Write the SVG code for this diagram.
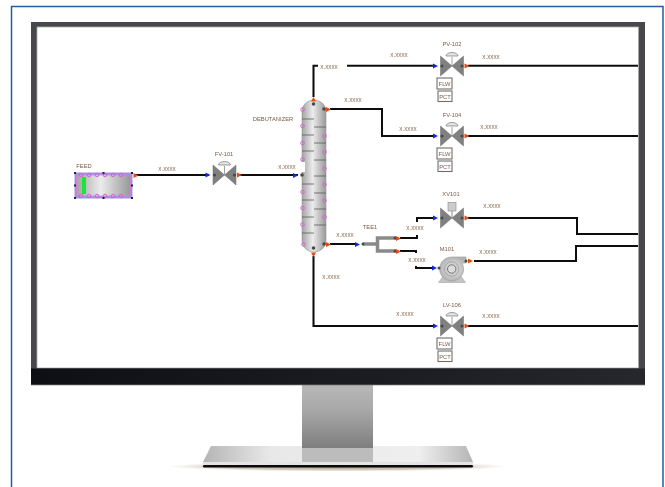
<svg xmlns="http://www.w3.org/2000/svg" width="665" height="487" viewBox="0 0 665 487">
<style>
text{font-family:"Liberation Sans",Arial,sans-serif;fill:#7d5b46;text-anchor:middle;font-size:5.8px}
.v{font-size:6.3px;fill:#8f705a}
.pipe{fill:none;stroke:#0c0c0c;stroke-width:2}
.tray{stroke:#5c5c5c;stroke-width:.8}
.ring{fill:none;stroke:#d464d8;stroke-width:1}
.box{fill:#fff;stroke:#6e6e6e;stroke-width:1.100}
.dot{fill:#4a4a4a}
</style>
<defs>
<filter id="soft" x="-2%" y="-2%" width="104%" height="104%"><feGaussianBlur stdDeviation=".28"/></filter>
<linearGradient id="col" x1="0" x2="1" y1="0" y2="0"><stop offset="0" stop-color="#a4a4a4"/><stop offset=".45" stop-color="#ececec"/><stop offset="1" stop-color="#989898"/></linearGradient>
<linearGradient id="bar" x1="0" x2="1" y1="0" y2="0"><stop offset="0" stop-color="#0e0f15"/><stop offset="1" stop-color="#26272c"/></linearGradient>
<linearGradient id="stand" x1="0" x2="0" y1="0" y2="1"><stop offset="0" stop-color="#b8b8b8"/><stop offset=".4" stop-color="#a8a8a8"/><stop offset="1" stop-color="#7e7e7e"/></linearGradient>
<linearGradient id="base" x1="0" x2="1" y1="0" y2="0"><stop offset="0" stop-color="#b5b5b5"/><stop offset=".25" stop-color="#e8e8e8"/><stop offset=".8" stop-color="#efefef"/><stop offset="1" stop-color="#b5b5b5"/></linearGradient>
<radialGradient id="shadow"><stop offset="0" stop-color="#a89e88"/><stop offset=".7" stop-color="#c0b8a8" stop-opacity=".7"/><stop offset="1" stop-color="#dcd8cc" stop-opacity="0"/></radialGradient>
<radialGradient id="pump"><stop offset="0" stop-color="#f0f0f0"/><stop offset="1" stop-color="#b4b4b4"/></radialGradient>
<path id="in" d="M0-2.600L5 0L0 2.600Z" fill="#1028e8"/>
<path id="out" d="M0-2.600L5 0L0 2.600Z" fill="#e8480f"/>
<g id="bow">
<path d="M-11.500-10L0 0L-11.500 10Z M11.500-10L0 0L11.500 10Z" fill="#808080" stroke="#6e6e6e" stroke-width=".5"/>
<circle cx="-10" cy="0" r="1.600" class="dot"/><circle cx="10" cy="0" r="1.600" class="dot"/>
<use href="#in" x="-19" y="0"/><use href="#out" x="12.500" y="0"/>
</g>
<g id="valve">
<path d="M0 0V-9" stroke="#888" stroke-width=".8"/>
<path d="M-6-10H6A6 3.500 0 0 0-6-10Z" fill="#e4e4e4" stroke="#777" stroke-width=".7"/>
<use href="#bow"/>
</g>
<g id="ctl">
<rect x="-15" y="12" width="15" height="11" class="box"/><text x="-7.500" y="19.800">FLW</text>
<rect x="-14" y="25" width="14" height="10.500" class="box"/><text x="-7" y="32.500">PCT</text>
</g>
</defs>
<rect width="665" height="487" fill="#fff"/>
<path d="M11.500 487V6.500H663V487" fill="none" stroke="#1f5fa8" stroke-width="1.500"/>
<g id="monitor">
<ellipse cx="338" cy="466.500" rx="173" ry="5" fill="url(#shadow)"/>
<path d="M211 446H466L473 462H203Z" fill="url(#base)"/>
<rect x="302" y="446" width="71" height="16" fill="#bcbcbc"/>
<rect x="203" y="462" width="270" height="3" fill="#e4e4e4"/>
<rect x="203" y="465" width="270" height="2.500" rx="1.200" fill="#0a0a0a"/>
<rect x="302" y="385" width="71" height="63" fill="url(#stand)"/>
<rect x="31" y="22" width="614" height="348" fill="#46484c"/>
<rect x="37" y="27" width="601.500" height="341" fill="#fff" stroke="#aaa" stroke-width=".8"/>
<rect x="31" y="368.500" width="614" height="16.500" fill="url(#bar)"/>
<rect x="31" y="384.500" width="614" height=".8" fill="#666"/>
</g>
<g filter="url(#soft)">
<g id="connectors">
<path class="pipe" d="M135 175H209"/>
<path class="pipe" d="M238 175H298"/>
<path class="pipe" d="M313.500 97V65.700H318"/>
<path class="pipe" d="M347 65.700H434"/>
<path class="pipe" d="M330 109H382V136H434"/>
<path class="pipe" d="M330 244H356"/>
<path class="pipe" d="M400 238H417V235"/>
<path class="pipe" d="M417 222V218H434"/>
<path class="pipe" d="M400 251H416V253"/>
<path class="pipe" d="M416 266V268H434"/>
<path class="pipe" d="M313.500 256V326H434"/>
<path class="pipe" d="M468 65.700H638"/>
<path class="pipe" d="M468 136H638"/>
<path class="pipe" d="M468 218H577V234H638"/>
<path class="pipe" d="M474 261H576V246H638"/>
<path class="pipe" d="M468 326H638"/>
</g>
<g id="feed">
<rect x="75" y="173" width="57" height="25" fill="#a49ce8" stroke="#8880dc" stroke-width=".8"/>
<rect x="76.500" y="175" width="54" height="21" fill="url(#col)" stroke="#d878dc" stroke-width=".7"/>
<g class="ring"><circle cx="81" cy="175" r="1.800"/><circle cx="89" cy="175" r="1.800"/><circle cx="97" cy="175" r="1.800"/><circle cx="105" cy="175" r="1.800"/><circle cx="113" cy="175" r="1.800"/><circle cx="121" cy="175" r="1.800"/><circle cx="81" cy="196" r="1.800"/><circle cx="89" cy="196" r="1.800"/><circle cx="97" cy="196" r="1.800"/><circle cx="105" cy="196" r="1.800"/><circle cx="113" cy="196" r="1.800"/><circle cx="121" cy="196" r="1.800"/></g>
<rect x="82" y="177" width="4" height="17" fill="#14e838"/>
<g fill="#222"><rect x="74" y="172" width="2" height="2"/><rect x="102.500" y="172" width="2" height="2"/><rect x="131" y="172" width="2" height="2"/><rect x="74" y="184.500" width="2" height="2"/><rect x="131" y="184.500" width="2" height="2"/><rect x="74" y="197" width="2" height="2"/><rect x="102.500" y="197" width="2" height="2"/><rect x="131" y="197" width="2" height="2"/></g>
<use href="#out" x="133.500" y="175.500"/>
<text x="84" y="168">FEED</text>
</g>
<g id="fv101"><use href="#valve" x="224.500" y="175"/><text x="224" y="156">FV-101</text></g>
<g id="debutanizer">
<rect x="302" y="100" width="24" height="152" rx="12" ry="11" fill="url(#col)" stroke="#999" stroke-width=".6"/>
<g class="tray"><path d="M302 119H314M302 135H314M302 151H314M302 184H314M302 200H314M302 217H314M302 233H314M314 127H326M314 143H326M314 160H326M314 176H326M314 193H326M314 209H326M314 225H326"/></g>
<rect x="278" y="162" width="27" height="10" fill="#fff"/>
<g class="ring"><circle cx="302.500" cy="109.500" r="1.800"/><circle cx="302.500" cy="126" r="1.800"/><circle cx="302.500" cy="143" r="1.800"/><circle cx="302.500" cy="159.500" r="1.800"/><circle cx="302.500" cy="192" r="1.800"/><circle cx="302.500" cy="208" r="1.800"/><circle cx="302.500" cy="224.500" r="1.800"/><circle cx="303.500" cy="244.500" r="1.800"/><circle cx="324.500" cy="136" r="1.800"/><circle cx="324.500" cy="152" r="1.800"/><circle cx="324.500" cy="168.500" r="1.800"/><circle cx="324.500" cy="184.500" r="1.800"/><circle cx="324.500" cy="200.500" r="1.800"/><circle cx="324.500" cy="217" r="1.800"/></g>
<circle cx="313.500" cy="104" r="1.800" class="dot"/><circle cx="324" cy="109" r="1.800" class="dot"/><circle cx="324" cy="244" r="1.800" class="dot"/><circle cx="313.500" cy="248" r="1.800" class="dot"/><circle cx="302" cy="175" r="1.800" class="dot"/>
<path d="M311 101.500L313.500 97L316 101.500Z" fill="#e8480f"/>
<path d="M311 252.500H316L313.500 257Z" fill="#e8480f"/>
<use href="#out" x="326" y="109.500"/><use href="#out" x="326" y="244.500"/><use href="#in" x="293" y="175.500"/>
<text x="273" y="121">DEBUTANIZER</text>
</g>
<g id="pv102"><use href="#valve" x="452" y="66"/><use href="#ctl" x="452" y="66"/><text x="452" y="46">PV-102</text></g>
<g id="fv104"><use href="#valve" x="452" y="136"/><use href="#ctl" x="452" y="136"/><text x="452" y="117">FV-104</text></g>
<g id="xv101"><rect x="448" y="202.500" width="8" height="8.500" fill="#ccc" stroke="#888" stroke-width=".6"/><path d="M452 211V218" stroke="#888"/><use href="#bow" x="452" y="218"/><text x="451" y="196">XV101</text></g>
<g id="m101">
<path d="M438.500 282.500L444 275H460L465.500 282.500Z" fill="#c4c4c4" stroke="#999" stroke-width=".5"/>
<path d="M452 257H466V263H462A12 12 0 1 1 452 257Z" fill="url(#pump)" stroke="#999" stroke-width=".6"/>
<circle cx="451.700" cy="269" r="7.200" fill="#cfcfcf" stroke="#8a8a8a" stroke-width=".6"/><circle cx="451.700" cy="269" r="4.200" fill="#ddd" stroke="#777" stroke-width="1"/>
<circle cx="466" cy="261" r="1.500" class="dot"/><use href="#out" x="468" y="261"/>
<use href="#in" x="432" y="268"/><circle cx="439" cy="268" r="1.500" class="dot"/>
<text x="447" y="251">M101</text>
</g>
<g id="lv106"><use href="#valve" x="452" y="326"/><use href="#ctl" x="452" y="326"/><text x="452" y="307">LV-106</text></g>
<g id="tee1">
<path d="M363 244H377M396 238H377.500V251H396" fill="none" stroke="#8a8a8a" stroke-width="3.500"/>
<use href="#in" x="355" y="244.500"/><circle cx="363" cy="244" r="1.500" class="dot"/><circle cx="395" cy="238" r="1.500" class="dot"/><circle cx="395" cy="251" r="1.500" class="dot"/>
<use href="#out" x="396" y="238.500"/><use href="#out" x="396" y="251.500"/>
<text x="370" y="229">TEE1</text>
</g>
<g id="labels">
<text class="v" x="167" y="171">x.xxxx</text><text class="v" x="287" y="169">x.xxxx</text>
<text class="v" x="329" y="69">x.xxxx</text><text class="v" x="399" y="57">x.xxxx</text><text class="v" x="491" y="59">x.xxxx</text>
<text class="v" x="353" y="102">x.xxxx</text><text class="v" x="408" y="131">x.xxxx</text><text class="v" x="489" y="129">x.xxxx</text>
<text class="v" x="492" y="208">x.xxxx</text><text class="v" x="345" y="237">x.xxxx</text><text class="v" x="415" y="230">x.xxxx</text>
<text class="v" x="488" y="254">x.xxxx</text><text class="v" x="417" y="262">x.xxxx</text><text class="v" x="331" y="279">x.xxxx</text>
<text class="v" x="405" y="316">x.xxxx</text><text class="v" x="491" y="318">x.xxxx</text>
</g>
</g>
</svg>
